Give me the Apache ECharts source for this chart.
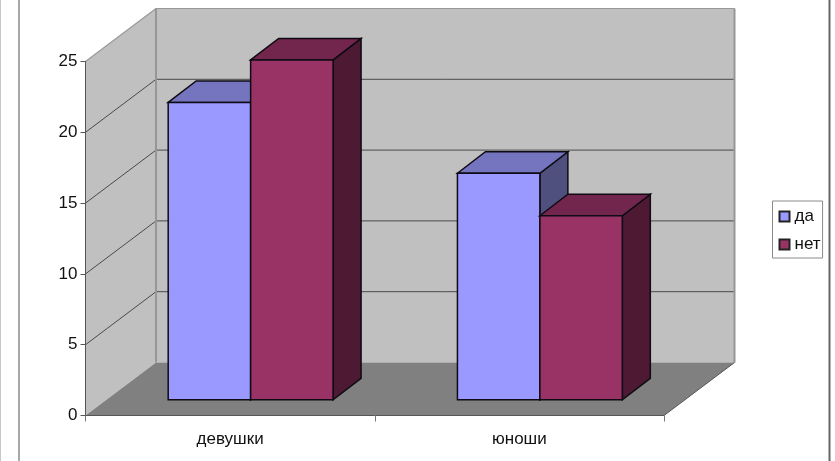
<!DOCTYPE html>
<html>
<head>
<meta charset="utf-8">
<style>html,body{margin:0;padding:0;background:#fff}#c{width:835px;height:461px}</style>
<script src="https://cdn.jsdelivr.net/npm/echarts@6/dist/echarts.min.js"></script>
</head>
<body>
<div id="c"></div>
<script>
var categories = ['девушки', 'юноши'];
var yesValues = [21, 16];
var noValues = [24, 13];
var yTicks = [0, 5, 10, 15, 20, 25];

var wallDepth = [70.5, -53];
var barInset = [20.5, -15.7];
var barDepth = [28, -21.5];
var barShare = 0.285;
var outline = '#0e0b14';

function poly(points, fill, stroke, width) {
  return {
    type: 'polygon',
    shape: { points: points },
    style: { fill: fill, stroke: stroke || null, lineWidth: width || 0, lineJoin: 'miter' }
  };
}
function seg(a, b, color, width) {
  return {
    type: 'line',
    shape: { x1: a[0], y1: a[1], x2: b[0], y2: b[1] },
    style: { stroke: color, lineWidth: width }
  };
}

function renderWalls(params, api) {
  var r = params.coordSys;
  var dx = wallDepth[0], dy = wallDepth[1];
  var L = r.x, R = r.x + r.width, T = r.y, B = r.y + r.height;
  var kids = [
    poly([[L, T], [L + dx, T + dy], [L + dx, B + dy], [L, B]], '#c0c0c0'),
    poly([[L + dx, T + dy], [R + dx, T + dy], [R + dx, B + dy], [L + dx, B + dy]], '#c0c0c0'),
    poly([[L, B], [R, B], [R + dx, B + dy], [L + dx, B + dy]], '#808080')
  ];
  yTicks.forEach(function (v) {
    var y = api.coord([0, v])[1];
    if (v > 0 && v < 25) {
      kids.push(seg([L, y], [L + dx, y + dy], '#4a4a4a', 1));
      kids.push(seg([L + dx, y + dy], [R + dx, y + dy], '#4a4a4a', 1));
    }
  });
  kids.push(seg([L, T], [L + dx, T + dy], '#999999', 1.2));
  kids.push(seg([L + dx, T + dy], [R + dx, T + dy], '#999999', 1.2));
  kids.push(seg([L + dx, T + dy], [L + dx, B + dy], '#969696', 2));
  kids.push(seg([R + dx, T + dy], [R + dx, B + dy], '#969696', 2));
  kids.push(seg([R, B], [R + dx, B + dy], '#555555', 1));
  return { type: 'group', children: kids };
}

function barRenderer(side, front, top, right) {
  return function (params, api) {
    var i = api.value(0), v = api.value(1);
    var base = api.coord([i, 0]), head = api.coord([i, v]);
    var w = api.size([1, 0])[0] * barShare;
    var x0 = base[0] + barInset[0] + (side < 0 ? -w : 0);
    var x1 = x0 + w;
    var yB = base[1] + barInset[1];
    var yT = head[1] + barInset[1];
    var dx = barDepth[0], dy = barDepth[1];
    return {
      type: 'group',
      children: [
        poly([[x1, yT], [x1 + dx, yT + dy], [x1 + dx, yB + dy], [x1, yB]], right, outline, 1.5),
        poly([[x0, yT], [x0 + dx, yT + dy], [x1 + dx, yT + dy], [x1, yT]], top, outline, 1.5),
        poly([[x0, yT], [x1, yT], [x1, yB], [x0, yB]], front, outline, 1.5)
      ]
    };
  };
}

function pairs(values) {
  return values.map(function (v, i) { return [i, v]; });
}

var chart = echarts.init(document.getElementById('c'), null, { renderer: 'canvas' });
chart.setOption({
  animation: false,
  backgroundColor: '#ffffff',
  textStyle: { fontFamily: '"Liberation Sans", Arial, sans-serif' },
  grid: { left: 85.5, top: 61.5, width: 578.5, height: 354, containLabel: false },
  xAxis: {
    type: 'category',
    data: categories,
    z: 3,
    axisLine: { show: true, lineStyle: { color: '#555555', width: 1 } },
    axisTick: { show: true, alignWithLabel: false, length: 6, lineStyle: { color: '#777777', width: 1 } },
    axisLabel: { color: '#111111', fontSize: 17, margin: 15 },
    splitLine: { show: false }
  },
  yAxis: {
    type: 'value',
    min: 0,
    max: 25,
    interval: 5,
    z: 3,
    axisLine: { show: true, lineStyle: { color: '#555555', width: 1 } },
    axisTick: { show: true, length: 5, lineStyle: { color: '#555555', width: 1 } },
    axisLabel: { color: '#111111', fontSize: 17, margin: 8, padding: [3, 0, 0, 0] },
    splitLine: { show: false }
  },
  legend: {
    data: ['да', 'нет'],
    orient: 'vertical',
    left: 772.5,
    top: 201,
    padding: [7, 2, 5, 6],
    itemWidth: 10,
    itemHeight: 10,
    itemGap: 11,
    borderColor: '#8a8a8a',
    borderWidth: 1,
    backgroundColor: '#ffffff',
    icon: 'rect',
    selectedMode: false,
    textStyle: { color: '#111111', fontSize: 17, padding: [0, 0, 0, 0] }
  },
  series: [
    {
      type: 'custom', name: 'walls', z: 1, silent: true, clip: false,
      data: [[0, 0]], encode: { x: 0, y: 1 },
      renderItem: renderWalls
    },
    {
      type: 'custom', name: 'да', z: 5, clip: false,
      itemStyle: { color: '#9999ff', borderColor: '#222222', borderWidth: 1.4 },
      data: pairs(yesValues), encode: { x: 0, y: 1 },
      renderItem: barRenderer(-1, '#9999ff', '#7575bf', '#50507f')
    },
    {
      type: 'custom', name: 'нет', z: 6, clip: false,
      itemStyle: { color: '#993366', borderColor: '#222222', borderWidth: 1.4 },
      data: pairs(noValues), encode: { x: 0, y: 1 },
      renderItem: barRenderer(1, '#993366', '#73264d', '#4d1933')
    }
  ],
  graphic: [
    { type: 'line', shape: { x1: 19, y1: 0, x2: 19, y2: 461 }, style: { stroke: '#a8a8a8', lineWidth: 2 }, silent: true },
    { type: 'line', shape: { x1: 0.5, y1: 0, x2: 0.5, y2: 461 }, style: { stroke: '#c8c8c8', lineWidth: 1 }, silent: true },
    { type: 'line', shape: { x1: 829.5, y1: 0, x2: 829.5, y2: 461 }, style: { stroke: '#666666', lineWidth: 2 }, silent: true }
  ]
});
</script>
</body>
</html>
